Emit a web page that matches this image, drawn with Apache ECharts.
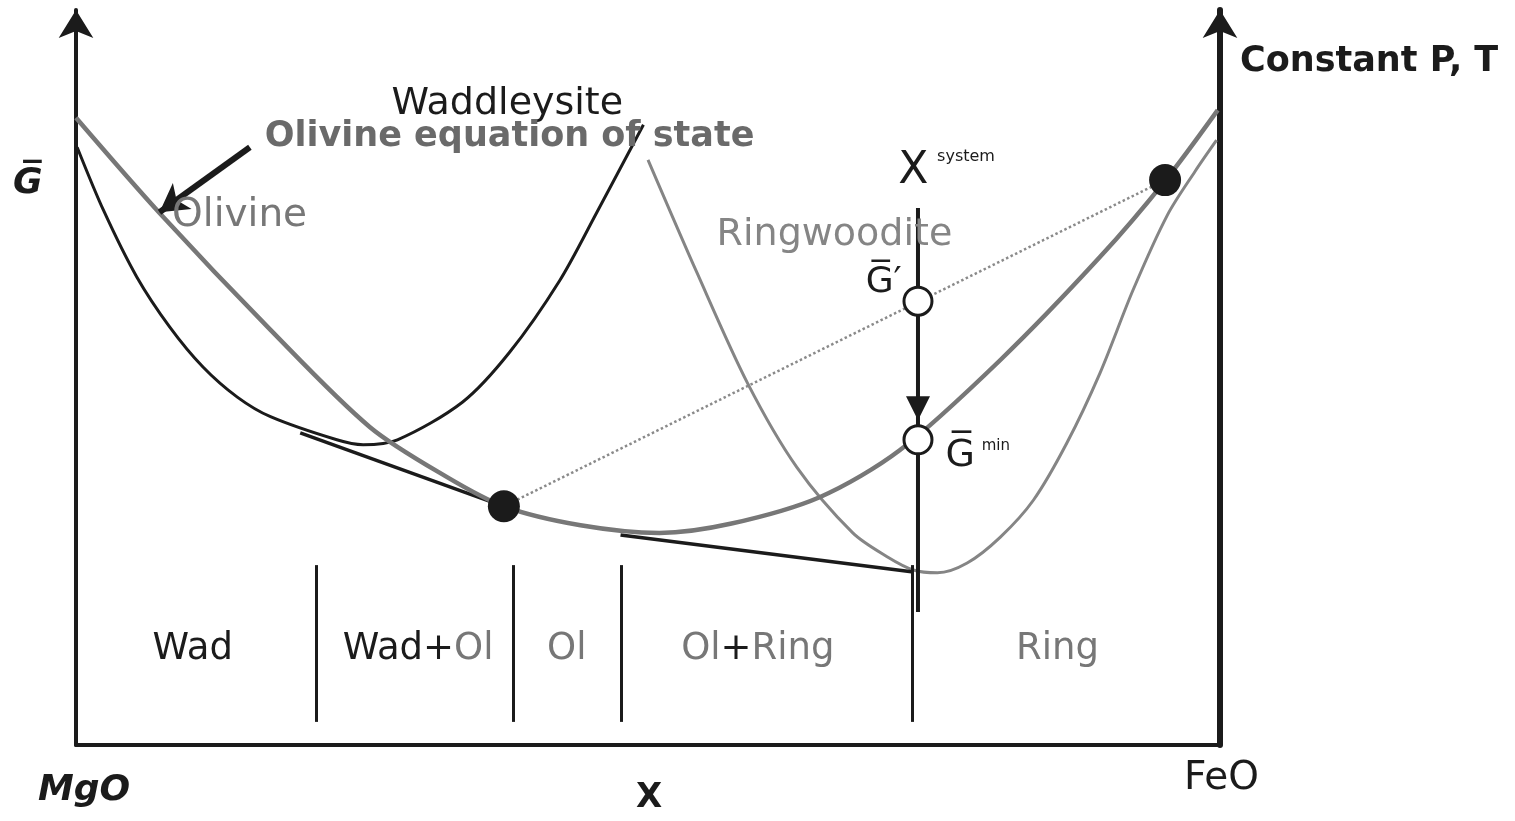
<!DOCTYPE html>
<html><head><meta charset="utf-8">
<script src="https://cdn.jsdelivr.net/npm/echarts@6/dist/echarts.min.js"></script>
<style>html,body{margin:0;padding:0;background:#fff}#c{width:1515px;height:821px}</style>
</head><body><div id="c"></div>
<script>
// composition X (0 = MgO, 100 = FeO) vs molar Gibbs energy G (arbitrary units)
const olivineCurve = [[0,89.6],[7.3,76.0],[17.0,59.3],[25.7,45.4],[32.4,38.3],[37.4,34.1],[44.1,31.4],[51.0,30.3],[57.2,31.6],[65.0,35.4],[72.0,42.1],[80.8,55.0],[89.5,69.7],[95.2,80.6],[99.8,90.7]];
const wadsleyiteCurve = [[0.1,85.4],[2.4,76.4],[5.3,66.9],[8.2,59.7],[11.1,54.0],[14.1,49.7],[17.0,46.9],[22.8,43.6],[25.1,42.9],[28.1,43.6],[33.8,49.0],[37.9,56.1],[42.3,66.4],[45.5,76.0],[49.6,88.6]];
const ringwooditeCurve = [[50.0,83.6],[54.3,67.4],[58.7,51.7],[63.0,39.7],[67.9,30.3],[70.9,26.9],[73.2,25.0],[75.3,24.6],[77.9,26.0],[80.8,29.7],[83.7,35.0],[86.6,43.1],[89.5,53.1],[92.4,65.0],[95.4,75.7],[97.8,81.9],[99.7,86.4]];
const tangentWadOl = [[19.6,44.6],[37.4,34.1]];
const tangentOlRing = [[47.6,30.0],[73.2,24.7]];
const tieLine = [[37.4,34.1],[95.2,80.7]];
const tieEnds = [[37.4,34.1],[95.2,80.7]];
const gPoints = [[73.6,63.4],[73.6,43.6]];
const xSystem = 73.6;
const systemLine = [[xSystem,76.7],[xSystem,19.0]];
const systemArrowHead = [[xSystem,48.1]];
const phaseBoundaries = [21.0, 38.2, 47.7, 73.1];
const boundaryRange = [3.3, 25.7];
const pointerArrow = [[15.2,85.4],[7.3,76.1]];
const phaseLabels = ['Wad','Wad+Ol','Ol','Ol+Ring','Ring'];
const phaseLabelX = [10.2, 29.9, 42.9, 59.6, 85.8];
const phaseLabelY = 13.7;

const K = '#1b1b1b', GR = '#777777', GR2 = '#858585';
const FONT = 'DejaVu Sans';
const chart = echarts.init(document.getElementById('c'));

function txt(name, pos, style){
  return {name, value: pos, label: Object.assign({show:true, position:'inside', formatter:'{b}', fontFamily:FONT, color:K, fontSize:34}, style)};
}
const annotations = [
  txt('Waddleysite',[37.7,91.6],{color:K,fontSize:38}),
  txt('Olivine equation of state',[37.9,86.9],{color:'#6a6a6a',fontSize:35,fontWeight:'bold'}),
  txt('Olivine',[14.3,75.6],{color:GR,fontSize:39}),
  txt('Ringwoodite',[66.3,72.9],{color:GR2,fontSize:38}),
  txt('X',[73.2,81.9],{color:K,fontSize:44}),
  txt('system',[77.8,84.0],{color:K,fontSize:16}),
  txt('G\u0305\u2032',[70.6,66.0],{color:K,fontSize:36}),
  txt('G\u0305',[77.3,41.3],{color:K,fontSize:38}),
  txt('min',[80.4,42.7],{color:K,fontSize:15})
];
const rich = {k:{color:K,fontSize:37,fontFamily:FONT}, g:{color:GR,fontSize:37,fontFamily:FONT}};
const phaseFmt = {'Wad':'{k|Wad}','Wad+Ol':'{k|Wad+}{g|Ol}','Ol':'{g|Ol}','Ol+Ring':'{g|Ol}{k|+}{g|Ring}','Ring':'{g|Ring}'};
phaseLabels.forEach((p,i)=>{
  annotations.push({name:p, value:[phaseLabelX[i], phaseLabelY], label:{show:true, position:'inside', formatter: phaseFmt[p], rich}});
});

const line = (data, color, width, extra) => Object.assign({type:'line', data, symbol:'none', showSymbol:false, silent:true, lineStyle:{color, width}}, extra||{});
const smooth = {smooth:0.3};

chart.setOption({
  animation:false,
  backgroundColor:'#fff',
  grid:{left:76, right:295, top:10, bottom:76},
  xAxis:{type:'value', min:0, max:100, axisLine:{show:true, onZero:false, lineStyle:{color:K, width:4}}, axisTick:{show:false}, axisLabel:{show:false}, splitLine:{show:false}},
  yAxis:[
    {type:'value', min:0, max:105, position:'left', axisLine:{show:true, onZero:false, symbol:['none','arrow'], symbolSize:[26,28], lineStyle:{color:K, width:4}}, axisTick:{show:false}, axisLabel:{show:false}, splitLine:{show:false}},
    {type:'value', min:0, max:105, position:'right', axisLine:{show:true, onZero:false, symbol:['none','arrow'], symbolSize:[26,28], lineStyle:{color:K, width:6}}, axisTick:{show:false}, axisLabel:{show:false}, splitLine:{show:false}}
  ],
  graphic:[
    {type:'text', left:13, top:166, style:{text:'G\u0305', font:'italic bold 36px "DejaVu Sans"', fill:K}},
    {type:'text', left:1240, top:44, style:{text:'Constant P, T', font:'bold 35px "DejaVu Sans"', fill:K}},
    {type:'text', left:38, top:773, style:{text:'MgO', font:'italic bold 36px "DejaVu Sans"', fill:K}},
    {type:'text', left:636, top:781, style:{text:'X', font:'bold 34px "DejaVu Sans"', fill:K}},
    {type:'text', left:1184, top:759, style:{text:'FeO', font:'39px "DejaVu Sans"', fill:K}}
  ],
  series:[
    line(tieLine, '#8a8a8a', 2.5, {lineStyle:{color:'#8a8a8a', width:2.5, type:'dotted'}, z:2}),
    line(wadsleyiteCurve, K, 3, Object.assign({z:3}, smooth)),
    line(ringwooditeCurve, GR2, 3, Object.assign({z:3}, smooth)),
    line(tangentWadOl, K, 3.5, {z:3}),
    line(tangentOlRing, K, 3.5, {z:3}),
    line(olivineCurve, GR, 4.5, Object.assign({z:4}, smooth)),
    line(systemLine, K, 4, {z:5}),
    {type:'scatter', data:systemArrowHead, symbol:'triangle', symbolRotate:180, symbolSize:[24,24], itemStyle:{color:K, opacity:1}, silent:true, z:6},
    {type:'line', data:[], silent:true, z:5,
      markLine:{silent:true, symbol:['none','none'], label:{show:false},
        lineStyle:{color:K, width:3, type:'solid'},
        data: phaseBoundaries.map(x=>[{coord:[x,boundaryRange[0]]},{coord:[x,boundaryRange[1]]}])}},
    {type:'line', data:[], silent:true, z:6,
      markLine:{silent:true, symbol:['none','arrow'], symbolSize:[24,28], label:{show:false},
        lineStyle:{color:K, width:6, type:'solid'},
        data:[[{coord:pointerArrow[0]},{coord:pointerArrow[1]}]]}},
    {type:'scatter', data:tieEnds, symbolSize:32, itemStyle:{color:K, opacity:1}, silent:true, z:7},
    {type:'scatter', data:gPoints, symbolSize:28, itemStyle:{color:'#fff', borderColor:K, borderWidth:3, opacity:1}, silent:true, z:7},
    {type:'scatter', data:annotations, symbolSize:0, itemStyle:{opacity:1}, silent:true, z:8}
  ]
});
</script></body></html>
